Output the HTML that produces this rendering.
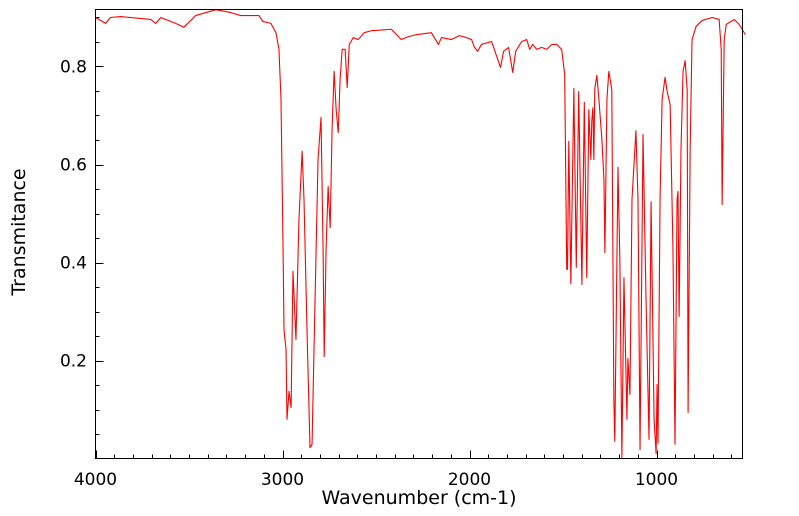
<!DOCTYPE html>
<html><head><meta charset="utf-8"><style>
html,body{margin:0;padding:0;background:#fff;}
svg{display:block;font-family:"DejaVu Sans","Liberation Sans",sans-serif;}
</style></head><body>
<svg id="chart" width="799" height="516" viewBox="0 0 799 516" xmlns="http://www.w3.org/2000/svg">
<rect x="0" y="0" width="799" height="516" fill="#fff"/>
<g id="ticks"></g>
<path id="spectrum" fill="none" stroke="#ff0000" stroke-width="1.1" stroke-linejoin="round"/>
<rect x="95.5" y="9.5" width="647" height="449" fill="none" stroke="#000" stroke-width="1"/>
<text x="419" y="504" font-size="19" text-anchor="middle">Wavenumber (cm-1)</text>
<text x="0" y="0" font-size="19" text-anchor="middle" transform="translate(25,232) rotate(-90)">Transmitance</text>
</svg>
<script>
const wavenumbers=[4000,3946,3920,3866,3759,3705,3678,3651,3571,3528,3464,3357,3276,3223,3126,3105,3062,3035,3019,3008,2997,2992,2981,2976,2965,2954,2944,2928,2912,2895,2885,2869,2853,2842,2826,2810,2794,2783,2777,2767,2756,2745,2735,2724,2713,2702,2692,2681,2665,2654,2643,2622,2595,2563,2525,2418,2365,2327,2284,2204,2166,2150,2096,2054,2016,1989,1973,1957,1936,1882,1834,1818,1791,1769,1753,1721,1694,1678,1662,1641,1614,1587,1560,1533,1507,1491,1480,1476,1469,1458,1442,1429,1416,1399,1386,1373,1362,1351,1346,1340,1335,1330,1319,1308,1292,1281,1276,1265,1255,1239,1228,1223,1206,1196,1185,1174,1158,1153,1142,1131,1110,1099,1088,1072,1056,1040,1029,1013,1002,997,992,981,970,954,943,927,912,901,890,885,879,869,858,847,836,831,820,810,788,756,702,665,654,649,638,627,584,558,525];
const transmittance=[.900,.888,.900,.902,.898,.896,.888,.900,.888,.880,.904,.916,.910,.904,.904,.892,.888,.869,.835,.733,.427,.263,.222,.080,.137,.104,.382,.243,.488,.627,.529,.263,.022,.029,.324,.610,.696,.427,.208,.427,.555,.471,.671,.790,.712,.665,.773,.835,.835,.757,.845,.859,.855,.869,.873,.876,.855,.861,.865,.869,.845,.859,.855,.863,.859,.855,.839,.831,.845,.851,.798,.831,.839,.788,.831,.851,.855,.835,.845,.835,.839,.835,.845,.845,.835,.784,.386,.386,.647,.357,.755,.390,.749,.355,.727,.369,.712,.610,.690,.716,.610,.755,.782,.733,.651,.569,.420,.733,.790,.753,.120,.035,.594,.406,.002,.369,.080,.204,.131,.529,.669,.529,.018,.661,.324,.039,.524,.080,.010,.151,.031,.529,.733,.778,.749,.722,.427,.029,.529,.545,.290,.631,.790,.812,.753,.094,.631,.855,.882,.894,.900,.896,.835,.518,.855,.886,.896,.886,.865];
const xTicks=[4000,3000,2000,1000];
const yTicks=[0.2,0.4,0.6,0.8];
const X0=95.5,PXW=0.187,Y0=458.5,PYT=490;
function xs(w){return X0+(4000-w)*PXW;}
function ys(t){return Y0-t*PYT;}
const NS="http://www.w3.org/2000/svg";
let d="";
for(let i=0;i<wavenumbers.length;i++){d+=(i?"L":"M")+xs(wavenumbers[i]).toFixed(2)+","+ys(transmittance[i]).toFixed(2);}
document.getElementById("spectrum").setAttribute("d",d);
const g=document.getElementById("ticks");
function line(x1,y1,x2,y2){const l=document.createElementNS(NS,"line");l.setAttribute("x1",x1);l.setAttribute("y1",y1);l.setAttribute("x2",x2);l.setAttribute("y2",y2);l.setAttribute("stroke","#000");l.setAttribute("stroke-width","1");


g.appendChild(l);}
for(let w=4000;w>=530;w-=100){const x=Math.round(xs(w))+0.5;const major=(w%1000===0);line(x,458.5,x,458.5-(major?8:4));}
for(let t=0.05;t<0.92;t+=0.05){const y=Math.round(ys(t))+0.5;const major=Math.abs(t*5-Math.round(t*5))<1e-6;line(95.5,y,95.5+(major?8:4),y);}
xTicks.forEach(w=>{const t=document.createElementNS(NS,"text");t.setAttribute("x",xs(w));t.setAttribute("y",485);t.setAttribute("font-size","17");t.setAttribute("text-anchor","middle");t.textContent=String(w);


g.appendChild(t);});
yTicks.forEach(v=>{const t=document.createElementNS(NS,"text");t.setAttribute("x",87);t.setAttribute("y",ys(v)+6);t.setAttribute("font-size","17");t.setAttribute("text-anchor","end");t.textContent=v.toFixed(1);


g.appendChild(t);});
</script>
</body></html>
